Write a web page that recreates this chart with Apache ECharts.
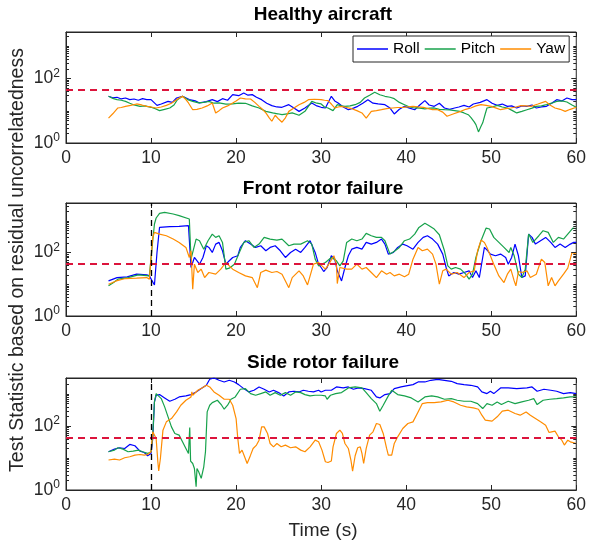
<!DOCTYPE html>
<html>
<head>
<meta charset="utf-8">
<script src="https://cdn.jsdelivr.net/npm/echarts@6/dist/echarts.min.js"></script>
<style>
html, body { margin: 0; padding: 0; background: #fff; }
#chart { width: 589px; height: 546px; }
</style>
</head>
<body>
<div id="chart"></div>
<script>
// ---- data ----------------------------------------------------------------
const panelTitles = ['Healthy aircraft', 'Front rotor failure', 'Side rotor failure'];
const seriesNames = ['Roll', 'Pitch', 'Yaw'];
const seriesColors = ['#0000FF', '#17A24B', '#FF8C00'];
const xTickValues = [0, 10, 20, 30, 40, 50, 60];
const yLabelledTicks = [1, 100];
const yLimits = [2700, 3600, 3100];
const threshold = 44;
const failureTime = 10;

// healthy aircraft: [time (s), test statistic]
const roll1 = [[5,27.8],[5.5,25],[6,26],[6.5,23],[7,24.6],[7.5,22],[8,22.9],[8.5,21],[9,23.5],[9.5,22],[10,21.9],[10.7,14.6],[11.2,16],[12,19.4],[12.5,18],[13,24.6],[13.7,27.8],[14.5,22],[15.2,20],[15.7,17.3],[16.5,19],[17.2,21.9],[17.8,19],[18.4,23.5],[19,21],[19.6,31.3],[20.3,29],[20.9,35.2],[21.4,30],[21.9,31.3],[22.4,26],[23,21.9],[23.6,17],[24.2,14.3],[24.8,13],[25.4,12.7],[26.2,15.3],[26.8,12],[27.4,9.5],[28.1,12.1],[28.9,17.3],[29.5,14],[30,12.7],[30.5,12.1],[31.2,27.8],[31.6,20],[32,17.3],[32.6,13],[33.2,10.7],[33.8,12],[34.3,13.6],[34.9,17],[35.5,21.9],[36.1,17],[36.7,16.1],[37.5,15.3],[38.1,12],[38.6,7.9],[39.2,11],[39.8,13.6],[40.4,12],[41,10.7],[41.6,15],[42.2,20.4],[42.7,15],[43.3,13.6],[43.9,17],[44.5,12.1],[45.1,11],[45.7,12.1],[46.2,13],[46.8,14.6],[47.4,13],[47.9,16.1],[48.7,18],[49.5,21.9],[50.1,17],[50.7,14.6],[51.3,16],[51.9,13.6],[52.4,14],[53,12.1],[53.6,14],[54.2,13.6],[54.8,15],[55.3,12.1],[55.9,13],[56.5,13.6],[57.1,17],[57.7,21.9],[58.3,20],[58.9,24.6],[59.5,22],[60,21.9]];
const pitch1 = [[5,27.8],[5.5,24],[6,22],[6.5,21],[7,19.4],[7.5,17],[8,15],[8.7,13.6],[9.3,14],[10,12.7],[10.5,11.5],[11,10],[11.6,11],[12.2,12.1],[12.7,15],[13.1,21.9],[13.7,27.8],[14.3,22],[14.9,19.4],[15.6,17.3],[16.2,18],[16.8,19.4],[17.4,17],[18,17.3],[18.8,16],[19.6,16.1],[20.3,17],[21.1,16.9],[21.9,14],[22.7,12.1],[23.5,9.5],[24.3,8.5],[24.9,8],[25.4,7.5],[26,8],[26.6,8.5],[27.4,7.2],[28.1,9.5],[28.9,19.4],[29.5,17],[30,16.1],[30.4,13],[30.8,12.1],[31.4,10],[31.9,15.3],[32.4,14],[32.8,13.6],[33.4,14],[34,15.3],[34.6,18],[35.1,24.6],[35.7,30],[36.3,36.9],[36.9,31],[37.5,27.8],[38.1,26],[38.6,23.5],[39.2,18],[39.8,15.3],[40.4,13],[41,12.1],[41.6,12],[42.2,11.3],[42.8,12],[43.3,12.1],[43.9,11],[44.5,10.7],[45.1,10.5],[45.7,10],[46.3,9.5],[46.8,8.5],[47.3,7.5],[47.6,6.2],[48,4.5],[48.2,3.7],[48.5,2.2],[48.8,3.3],[49,4.2],[49.3,8],[49.5,12.1],[50.1,13],[50.7,14.6],[51.3,13],[51.9,12.1],[52.5,10],[53,8.5],[53.6,9.5],[54.2,10.7],[54.8,12],[55.3,13.6],[55.9,14],[56.5,15.3],[57.1,17],[57.7,19.4],[58.3,20],[58.9,18.5],[59.5,15],[60,12.7]];
const yaw1 = [[5,5.9],[5.5,8],[6.1,12.1],[6.5,12.5],[7,13.6],[7.6,14.5],[8.3,16.1],[8.9,15],[9.5,13.6],[10,13],[10.6,12.1],[11.2,13],[11.8,14.6],[12.4,17],[13,21.9],[13.7,27.8],[14.1,22],[14.4,17.3],[14.9,10.7],[15.4,11],[16,12.1],[16.6,14],[17.2,17.3],[17.6,8.5],[18,10],[18.4,12.1],[19,14],[19.6,17.3],[20,20],[20.5,24.6],[21.1,23],[21.7,22.9],[22.2,18],[22.7,13.6],[23.1,11],[23.5,8.5],[23.9,6],[24.2,4.7],[24.6,7.2],[25,5.5],[25.4,4.4],[25.8,6],[26.2,9.5],[26.8,12],[27.4,15.3],[28,18],[28.5,21.9],[29.2,22.5],[30,21.9],[30.4,21],[30.8,20.4],[31.2,16],[31.6,12.1],[32,13],[32.4,13.6],[33,12.5],[33.6,11.5],[34.2,10],[34.8,8.5],[35.3,5.9],[35.9,9.5],[36.5,10],[37.1,10.7],[37.7,11.5],[38.4,12.1],[39,12.5],[39.6,12.7],[40.2,13],[40.8,13.6],[41.4,13],[42,12.7],[42.6,11.5],[43.1,10.7],[43.7,10.7],[44.3,9],[44.8,6.7],[45.6,8],[46.4,9.5],[47,11],[47.6,12.1],[48.2,14],[48.8,15.3],[49.4,14.5],[50,13.6],[50.6,12],[51.1,10.7],[51.7,11.5],[52.3,12.1],[52.9,13],[53.5,14.3],[54.1,14],[54.7,13.6],[55.5,16],[56.4,19.4],[56.9,15],[57.5,12.1],[58.1,11],[58.7,9.5],[59.3,11],[60,12.7]];

// front rotor failure
const roll2 = [[5,12.7],[6,16.2],[7.2,17.1],[8.3,20.7],[9.5,19.7],[9.8,18.3],[10.4,9.5],[10.7,100],[11,615],[12.2,647],[13.3,662],[14.4,695],[14.7,33.6],[15.1,69.5],[15.3,78.5],[15.7,42.8],[16.1,69.5],[16.5,162],[16.8,144],[17.2,100],[17.6,183],[18,207],[18.4,113],[18.8,42.8],[19.2,54.6],[19.6,69.5],[20.2,78.5],[20.5,144],[21.1,234],[21.7,183],[22.3,144],[22.9,162],[23.5,113],[24,144],[24.6,162],[25.2,113],[25.8,69.5],[26.4,100],[27,127],[27.6,100],[28.1,144],[28.7,234],[29.3,100],[29.7,42.8],[30,33.6],[30.3,25.1],[30.7,33.6],[31.2,78.5],[31.6,61.6],[31.9,26.4],[32.4,12.7],[32.8,33.6],[33.2,78.5],[33.6,127],[34.2,144],[34.8,127],[35.3,207],[35.9,183],[36.5,207],[37.1,264],[37.5,183],[37.9,88.6],[38.5,100],[39,144],[39.6,183],[40.1,162],[40.8,127],[41.4,207],[42,298],[42.5,336],[43.1,264],[43.7,183],[44.3,88.6],[44.7,33.6],[45,18.3],[45.6,23.4],[46.2,20.7],[46.8,23.4],[47.4,26.4],[47.8,16.2],[48.2,26.4],[48.6,16.2],[48.8,33.6],[49.2,144],[49.6,113],[49.9,88.6],[50.5,78.5],[51.1,88.6],[51.7,69.5],[52,42.8],[52.4,69.5],[52.8,183],[53.2,78.5],[53.6,16.2],[54,18.3],[54.4,379],[54.8,298],[55.2,183],[55.8,234],[56.4,298],[57,207],[57.5,144],[58.1,183],[58.7,144],[59.3,183],[59.7,207],[60,207]];
const pitch2 = [[5,8.9],[5.6,11.3],[6.1,14.4],[7.3,16.2],[8.5,19.7],[9.8,18.3],[10,16.2],[10.2,234],[10.4,785],[10.6,1213],[11,1706],[11.6,1833],[12.6,1624],[13.3,1438],[14.5,1129],[14.7,61.6],[14.9,69.5],[15.3,264],[15.7,234],[16.2,127],[16.7,234],[17.2,379],[17.6,298],[18,336],[18.4,207],[18.8,29.8],[19.2,32],[19.8,42.8],[20.3,88.6],[20.9,207],[21.5,234],[22.1,144],[22.7,183],[23.3,298],[24,264],[24.8,245],[25.4,264],[26.2,162],[26.8,183],[27.6,183],[28.4,234],[28.9,183],[29.3,61.6],[29.7,37.9],[30.1,42.8],[30.5,48.3],[31.2,69.5],[31.8,54.6],[32.2,37.9],[32.6,54.6],[33,207],[33.6,264],[34.2,234],[34.8,264],[35.3,398],[35.9,336],[36.5,298],[37.1,298],[37.5,234],[38.1,88.6],[38.7,113],[39.2,144],[39.8,234],[40.4,264],[41,379],[41.5,615],[42.2,824],[42.7,695],[43.3,546],[43.9,361],[44.5,113],[44.9,37.9],[45.3,29.8],[45.8,33.6],[46.4,29.8],[47,20.7],[47.4,14.4],[47.8,20.7],[48.2,69.5],[48.8,234],[49.4,586],[49.8,546],[50.3,298],[50.9,207],[51.5,144],[52.1,100],[52.3,144],[52.7,78.5],[53.2,20.7],[53.6,16.2],[54,29.8],[54.4,379],[54.9,207],[55.6,336],[56.1,483],[56.7,428],[57.3,207],[57.9,298],[58.5,264],[59,379],[59.6,586],[60,557]];
const yaw2 = [[5,10],[5.9,12.7],[7,15.1],[8.3,15.5],[9.5,16.2],[9.8,14.4],[10,16.2],[10.2,298],[10.4,428],[11,379],[11.8,336],[12.6,264],[13.3,207],[14.1,144],[14.5,69.5],[14.7,113],[14.9,7.0],[15.1,42.8],[15.5,23.4],[15.9,29.8],[16.3,16.2],[16.8,23.4],[17.6,20.7],[18.2,29.8],[18.4,29.8],[18.8,48.3],[19.2,37.9],[19.6,29.8],[20.3,23.4],[21.1,18.3],[21.9,16.2],[22.5,7.8],[22.9,23.4],[23.5,27.7],[24.2,23.4],[24.8,25.1],[25.4,20.7],[26.2,7.8],[26.6,16.2],[27.4,26.4],[27.9,18.3],[28.4,9.5],[29.1,42.8],[29.7,48.3],[30.1,37.9],[30.5,29.8],[30.9,42.8],[31.5,78.5],[31.8,42.8],[31.9,10.5],[32.2,33.6],[33,29.8],[33.6,29.8],[34.2,42.8],[34.8,29.8],[35.3,33.6],[35.9,23.4],[36.5,16.2],[37.1,26.4],[37.7,20.7],[38.1,23.4],[38.6,18.3],[39.2,20.7],[39.8,17.1],[40.3,20.7],[40.8,61.6],[41.4,144],[41.9,113],[42.5,127],[43.1,88.6],[43.5,42.8],[43.9,10],[44.3,26.4],[44.7,29.8],[45.3,20.7],[46,23.4],[46.8,16.2],[47.4,23.4],[48,26.4],[48.4,113],[48.8,245],[49.2,207],[49.5,144],[49.9,78.5],[50.3,42.8],[50.9,18.3],[51.5,11.3],[51.9,20.7],[52.3,29.8],[52.7,12.7],[52.9,8.9],[53.2,25.1],[53.6,23.4],[54.2,26.4],[54.6,16.2],[55.3,20.7],[55.9,61.6],[56.3,48.3],[56.7,8.9],[57.1,16.2],[57.5,8.9],[57.9,12.7],[58.5,20.7],[59,32],[59.5,100],[60,88.6]];

// side rotor failure
const roll3 = [[5,15.6],[5.7,18.8],[6.3,20.7],[6.9,19.7],[7.5,26.3],[8.1,23.9],[8.7,16.3],[9.2,14.8],[9.6,11.7],[10,13.8],[10.2,40.4],[10.4,557],[10.6,898],[11,942],[11.6,742],[12.2,585],[12.8,675],[13.3,797],[14.1,857],[14.7,942],[15.3,1140],[15.9,1448],[16.5,1837],[16.9,2824],[17.4,3105],[18,2630],[18.6,2334],[19.2,2630],[19.8,2334],[20.3,1928],[20.9,1448],[21.5,1140],[22.1,1285],[22.7,1630],[23.3,1380],[23.9,1140],[24.4,1285],[25,1087],[25.6,857],[26.2,1140],[26.8,1196],[27.4,1140],[27.9,1285],[28.5,1196],[29.1,1140],[29.7,1285],[30,1140],[30.5,1285],[31.2,1285],[31.8,1630],[32.6,1518],[33.2,1630],[33.8,1380],[34.4,1518],[35.1,1448],[35.9,1285],[36.5,797],[36.9,742],[37.5,942],[38.1,1012],[38.6,1448],[39.4,1630],[40,1753],[40.8,1928],[41.4,2334],[42.2,2334],[42.9,2630],[43.7,2824],[44.5,2630],[45.3,2447],[46,2070],[46.8,1928],[47.6,1837],[48.4,1630],[48.9,1140],[49.5,1012],[49.9,1196],[50.3,1012],[51.1,1518],[52,1518],[53,1448],[54.2,1518],[54.8,1630],[55.4,1196],[56.2,1380],[57,1285],[57.7,1196],[58.5,1012],[59.3,1087],[60,1012]];
const pitch3 = [[5,15.6],[5.7,17.5],[6.1,20.7],[6.7,18.8],[7.3,15.6],[7.9,16.3],[8.5,17.5],[9,15.6],[9.6,13.8],[10,15.6],[10.2,51.3],[10.4,557],[10.6,1012],[10.8,1012],[11.2,707],[11.6,390],[12,191],[12.4,93],[12.8,57.8],[13.3,51.3],[13.7,31.8],[14.1,19.7],[14.4,13.8],[14.55,88],[14.65,8],[14.9,6.7],[15.1,4.7],[15.3,1.27],[15.4,4.7],[15.6,3.7],[15.9,2.3],[16.2,5.3],[16.4,15.6],[16.6,272],[16.9,439],[17.2,531],[17.8,628],[18.3,439],[18.6,330],[19,439],[19.4,675],[19.9,797],[20.5,1380],[21.1,1448],[21.7,1012],[22.3,898],[22.9,1012],[23.5,1140],[24,898],[24.6,1087],[25.2,898],[25.8,1087],[26.4,898],[27,1140],[27.6,1087],[28.1,942],[28.7,857],[29.3,898],[30,898],[30.5,857],[30.7,675],[31.1,898],[31.7,1012],[32.4,1087],[33.2,1518],[34,1630],[34.8,1518],[35.3,1087],[35.9,707],[36.5,494],[36.9,286],[37.3,439],[37.9,857],[38.3,1285],[39,942],[39.8,857],[40.6,742],[41.4,557],[42.2,797],[43,857],[43.7,797],[44.5,675],[45.3,707],[46,628],[46.8,585],[47.6,585],[48.4,494],[49,346],[49.5,494],[50.1,439],[50.7,557],[51.2,460],[52,585],[52.8,494],[53.6,557],[54.4,628],[55,707],[55.4,460],[56.1,628],[56.9,675],[57.7,707],[58.5,742],[59.3,797],[60,797]];
const yaw3 = [[5,8.6],[5.7,9.2],[6.3,8.6],[6.9,10.1],[7.5,10.9],[8.1,12.2],[8.7,12.8],[9.2,12.2],[9.6,12.8],[10,15.6],[10.2,65],[10.4,73.3],[10.6,40.4],[10.8,7.6],[10.9,3.9],[11.1,9.6],[11.4,73.3],[11.8,133],[12.4,169],[13,272],[13.5,439],[14.1,628],[14.7,797],[14.8,1140],[14.9,898],[15.5,1285],[16,1518],[16.5,1837],[16.9,1630],[17.4,1140],[18,898],[18.6,675],[19.2,675],[19.6,439],[20,169],[20.2,40.4],[20.4,13.8],[20.7,17.5],[21,10.9],[21.3,6.7],[21.7,12.2],[22,19.7],[22.4,25.1],[22.7,35.8],[23,93],[23.3,93],[23.7,57.8],[24,28.2],[24.4,22.2],[24.8,28.2],[25.3,22.2],[25.8,25.1],[26.4,20.7],[27,22.2],[27.6,17.5],[28.1,15.6],[28.7,22.2],[29.3,35.8],[29.7,31.8],[30.1,17.5],[30.5,7.6],[30.8,7.2],[31.2,8.0],[31.4,22.2],[31.8,57.8],[32.2,73.3],[32.5,57.8],[32.8,28.2],[33.2,19.7],[33.5,8.6],[33.7,3.9],[34,11.7],[34.3,20.7],[34.6,22.2],[34.8,13.8],[35,6.7],[35.3,19.7],[35.7,51.3],[36.1,65],[36.5,118],[36.9,110],[37.3,57.8],[37.7,19.7],[37.9,12.2],[38.3,12.2],[38.6,28.2],[39,45.5],[39.6,82.6],[40.2,118],[40.8,133],[41.4,272],[41.9,494],[42.5,531],[43.3,531],[44.1,557],[44.9,628],[45.6,557],[46.4,439],[47.1,390],[47.9,363],[48.5,330],[48.9,215],[49.3,150],[50.1,140],[50.7,191],[51.3,286],[52,307],[52.8,242],[53.4,215],[54.1,272],[54.6,215],[55.2,169],[55.8,133],[56.4,105],[56.8,62.1],[57.1,65],[57.5,68.3],[57.9,45.5],[58.3,35.8],[58.6,25.1],[59,35.8],[59.3,31.8],[60,28.2]];

const panelData = [
  [roll1, pitch1, yaw1],
  [roll2, pitch2, yaw2],
  [roll3, pitch3, yaw3]
];

// ---- layout & styling ----------------------------------------------------
const FONT = '"Liberation Sans", Arial, Helvetica, sans-serif';
const AXIS_COLOR = '#262626';
const plotLeft = 66, plotWidth = 514;
const panels = [
  { top: 32, height: 111, titleY: 15 },
  { top: 203, height: 113, titleY: 189 },
  { top: 378, height: 112, titleY: 363 }
];

// log-axis tick values: labelled decades get long ticks, the rest short ones
function yTickList(maxVal) {
  const out = [];
  for (let p = 1; p <= maxVal; p *= 10) {
    for (let k = 1; k <= 9; k++) {
      const v = k * p;
      if (v > maxVal) break;
      out.push([0, v, yLabelledTicks.indexOf(v) >= 0 ? 1 : 0]);
    }
  }
  return out;
}

function supLabel(v) {
  const e = Math.round(Math.log10(v));
  if (yLabelledTicks.some(t => Math.abs(t - v) < 1e-6 * t)) return '{b|10}{s|' + e + '}';
  return '';
}

const grid = [], xAxis = [], yAxis = [], series = [];

panels.forEach((p, i) => {
  grid.push({
    left: plotLeft, width: plotWidth, top: p.top, height: p.height,
    show: true, borderColor: AXIS_COLOR, borderWidth: 1, backgroundColor: 'transparent'
  });
  xAxis.push({
    type: 'value', gridIndex: i, min: xTickValues[0], max: xTickValues[xTickValues.length - 1],
    interval: xTickValues[1] - xTickValues[0],
    axisLine: { show: true, lineStyle: { color: AXIS_COLOR, width: 1 } },
    axisTick: { show: true, inside: true, length: 5, lineStyle: { color: AXIS_COLOR } },
    axisLabel: { show: true, fontSize: 17.5, fontFamily: FONT, color: AXIS_COLOR, margin: 6 },
    splitLine: { show: false }
  });
  yAxis.push({
    type: 'log', logBase: 10, gridIndex: i, min: 1, max: yLimits[i],
    axisLine: { show: true, lineStyle: { color: AXIS_COLOR, width: 1 } },
    axisTick: { show: false },
    splitLine: { show: false },
    axisLabel: {
      show: true, margin: 6, formatter: supLabel,
      rich: {
        b: { fontSize: 17.5, fontFamily: FONT, color: AXIS_COLOR },
        s: { fontSize: 12, fontFamily: FONT, color: AXIS_COLOR, padding: [0, 0, 10, 0] }
      }
    }
  });
});
// top x axes (tick marks only) to close the box like the bottom one
panels.forEach((p, i) => {
  xAxis.push({
    type: 'value', gridIndex: i, position: 'top', min: xTickValues[0], max: xTickValues[xTickValues.length - 1],
    interval: xTickValues[1] - xTickValues[0],
    axisLine: { show: true, lineStyle: { color: AXIS_COLOR, width: 1 } },
    axisTick: { show: true, inside: true, length: 5, lineStyle: { color: AXIS_COLOR } },
    axisLabel: { show: false },
    splitLine: { show: false }
  });
});

panels.forEach((p, i) => {
  panelData[i].forEach((d, s) => {
    series.push({
      type: 'line', name: seriesNames[s], xAxisIndex: i, yAxisIndex: i,
      data: d, showSymbol: false, symbol: 'none', animation: false,
      color: seriesColors[s],
      lineStyle: { width: 1.2, color: seriesColors[s] },
      z: 3
    });
  });
  // reference lines: detection threshold, and the failure instant
  const marks = [{ yAxis: threshold, lineStyle: { color: '#DC143C', type: [7, 5], width: 2 } }];
  if (i > 0) marks.push({ xAxis: failureTime, lineStyle: { color: '#000', type: [6, 4], width: 1.3 } });
  series.push({
    type: 'line', name: 'refs' + i, xAxisIndex: i, yAxisIndex: i, data: [],
    animation: false, z: 4,
    markLine: { silent: true, symbol: 'none', label: { show: false }, animation: false, data: marks }
  });
  // log-style minor/major tick marks on both vertical sides
  series.push({
    type: 'custom', name: 'yticks' + i, xAxisIndex: i, yAxisIndex: i,
    data: yTickList(yLimits[i]), silent: true, animation: false, clip: false, z: 5,
    renderItem: function (params, api) {
      const v = api.value(1), major = api.value(2);
      const pl = api.coord([xTickValues[0], v]);
      const pr = api.coord([xTickValues[xTickValues.length - 1], v]);
      const len = major ? 5 : 3;
      const y = Math.round(pl[1]) + 0.5;
      return {
        type: 'group', children: [
          { type: 'line', shape: { x1: pl[0], y1: y, x2: pl[0] + len, y2: y }, style: { stroke: AXIS_COLOR, lineWidth: 1 } },
          { type: 'line', shape: { x1: pr[0], y1: y, x2: pr[0] - len, y2: y }, style: { stroke: AXIS_COLOR, lineWidth: 1 } }
        ]
      };
    }
  });
});

const graphic = panels.map((p, i) => ({
  type: 'text', x: plotLeft + plotWidth / 2, y: p.titleY, silent: true,
  style: { text: panelTitles[i], font: 'bold 19px ' + FONT, fill: '#000', align: 'center', verticalAlign: 'middle' }
}));
graphic.push({
  type: 'text', x: plotLeft + plotWidth / 2, y: 531, silent: true,
  style: { text: 'Time (s)', font: '19px ' + FONT, fill: AXIS_COLOR, align: 'center', verticalAlign: 'middle' }
});
graphic.push({
  type: 'text', x: 18, y: 260, rotation: Math.PI / 2, silent: true,
  style: { text: 'Test Statistic based on residual uncorrelatedness', font: '19.5px ' + FONT, fill: AXIS_COLOR, align: 'center', verticalAlign: 'middle' }
});

const chart = echarts.init(document.getElementById('chart'), null, { renderer: 'canvas' });
chart.setOption({
  animation: false,
  backgroundColor: '#fff',
  grid, xAxis, yAxis, series, graphic,
  legend: {
    data: seriesNames, left: 353, top: 36, orient: 'horizontal',
    icon: 'rect', itemWidth: 31, itemHeight: 1.5, itemGap: 5,
    padding: [5, 4, 5, 4], borderColor: AXIS_COLOR, borderWidth: 1, backgroundColor: '#fff',
    textStyle: { fontSize: 15.5, fontFamily: FONT, color: '#000' },
    selectedMode: false
  }
});
</script>
</body>
</html>
